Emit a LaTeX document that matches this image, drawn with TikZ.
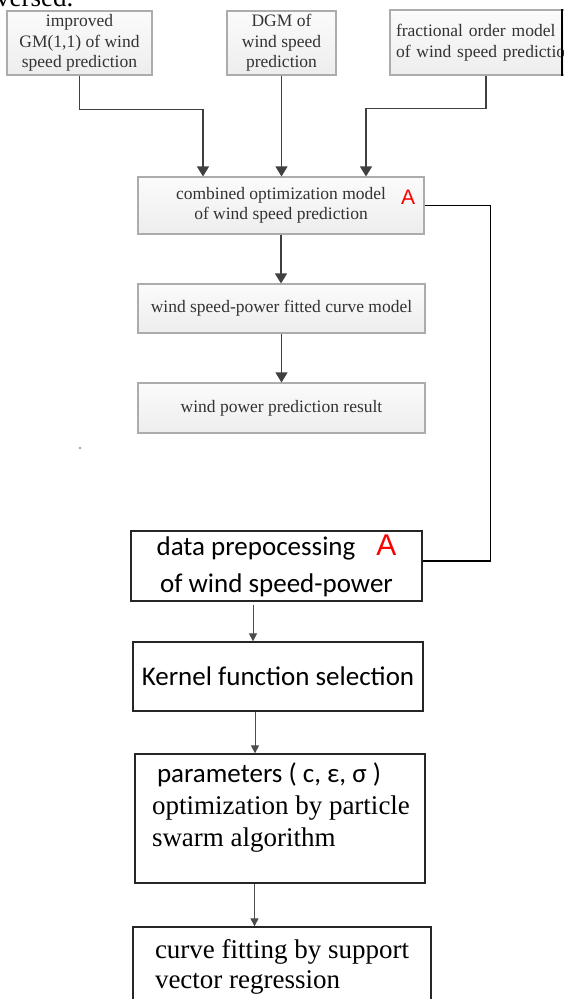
\documentclass[tikz,border=0pt]{standalone}
\usepackage{fontspec}
\setmainfont{Liberation Serif}
\newfontfamily\calibri{Carlito}
\newfontfamily\arial{Liberation Sans}
\usetikzlibrary{arrows.meta, positioning, calc}

\tikzset{
  topbox/.style={draw=gray!65, line width=1.1pt, top color=gray!3, bottom color=gray!14,
    text=black!80, font=\fontsize{17.5}{20.5}\selectfont, align=center, inner sep=0pt},
  lowbox/.style={draw=black!85, line width=1.3pt, fill=white, text=black,
    font=\calibri\fontsize{27}{37}\selectfont, align=center, inner sep=0pt},
  flow/.style={draw=black!75, line width=1.1pt, -{Triangle[length=10pt,width=12pt]}},
  lowflow/.style={draw=black!70, line width=1pt, -{Triangle[length=8pt,width=8pt]}},
  link/.style={draw=black, line width=1.3pt},
  markA/.style={text=red, font=\arial\fontsize{21}{21}\selectfont, inner sep=0pt},
}

\begin{document}
\begin{tikzpicture}[x=1pt, y=-1pt]
        \useasboundingbox (0,0) rectangle (563,999);

        % cut-off line of the page above
        \node[anchor=base west, inner sep=0pt, font=\fontsize{27}{27}\selectfont] (cut) at (-4,6) {versed.};

        % Prediction models
        \node[topbox, minimum width=145, minimum height=64] (gm) at (79.5,43)
            {improved\\GM(1,1) of wind\\speed prediction};
        \node[topbox, minimum width=109, minimum height=64] (dgm) at (281.5,43)
            {DGM of\\wind speed\\prediction};
        \node[topbox, align=left, text width=180, inner xsep=6pt, minimum height=65] (frac) at (486,42.5)
            {fractional order model\\of wind speed prediction};
        \draw[black, line width=1.5pt] (562,0 |- frac.north) -- (562,0 |- frac.south);

        % Combination and power curve
        \node[topbox, minimum width=286, minimum height=57] (comb) at (281,205.5)
            {combined optimization model\\of wind speed prediction};
        \node[markA] (combA) at ([xshift=-16.5pt,yshift=8pt]comb.east) {A};
        \node[topbox, minimum width=287, minimum height=49] (fit) at (281.5,308.5)
            {wind speed-power fitted curve model};
        \node[topbox, minimum width=287, minimum height=50] (result) at (281.5,408)
            {wind power prediction result};

        \draw[flow] (gm.south) -- ++(0,34) -| ([xshift=-78pt]comb.north);
        \draw[flow] (dgm.south) -- (dgm.south |- comb.north);
        \draw[flow] (frac.south) -- ++(0,33) -| ([xshift=85pt]comb.north);
        \draw[flow] (comb.south) -- (comb.south |- fit.north);
        \draw[flow] (fit.south) -- (fit.south |- result.north);

        % stray dot
        \fill[black!70] (80,448) circle (0.9pt);

        % SVR fitting steps
        \node[lowbox, minimum width=291, minimum height=70] (prep) at (276.5,566)
            {data prepocessing\hspace{21pt}{\arial\fontsize{30}{30}\selectfont\color{red}A}\\of wind speed-power};
        \node[lowbox, minimum width=290, minimum height=69] (kernel) at (278,676.5)
            {Kernel function selection};
        \node[lowbox] (pso) at (280,818.5)
            {\parbox[c][129pt][t]{290pt}{\vspace*{9pt}\raggedright\fontsize{27}{32}\selectfont
             \hspace*{22pt}parameters ( c, ε, σ )\par
             \rmfamily\hspace*{17pt}optimization by particle\par
             \hspace*{17pt}swarm algorithm}};
        \node[lowbox] (svr) at (282,971)
            {\parbox[c][88pt][t]{298pt}{\vspace*{12.5pt}\raggedright\rmfamily\fontsize{27}{30}\selectfont
             \hspace*{22pt}curve fitting by support\par
             \hspace*{22pt}vector regression}};

        \draw[link] (comb.east) -- ++(66,0) |- ([yshift=5pt]prep.east);
        \draw[lowflow] ([xshift=-23.5pt,yshift=-3pt]prep.south) -- ([xshift=-23.5pt]prep.south |- kernel.north);
        \draw[lowflow] ([xshift=-23pt]kernel.south) -- ([xshift=-23pt]kernel.south |- pso.north);
        \draw[lowflow] ([xshift=-25.5pt]pso.south) -- ([xshift=-25.5pt]pso.south |- svr.north);
\end{tikzpicture}
\end{document}
